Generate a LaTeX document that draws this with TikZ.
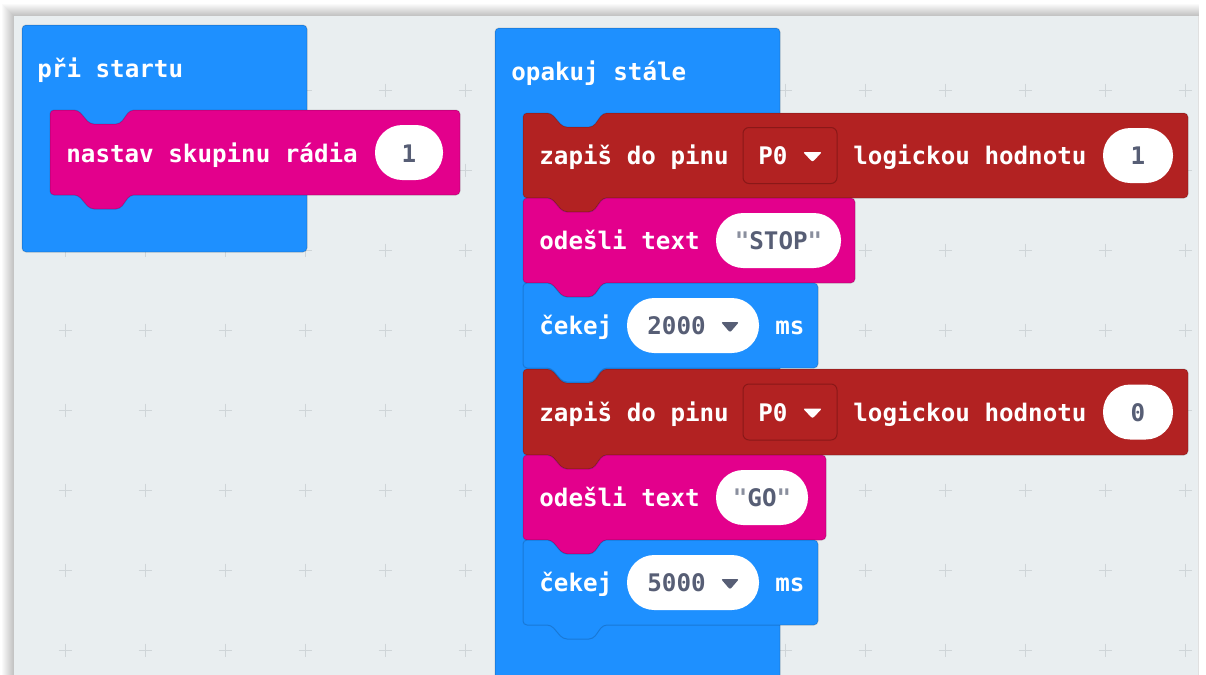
\documentclass[tikz,border=0pt]{standalone}
\usepackage{fontspec}
\newfontfamily\bfont{DejaVu Sans Mono}
\definecolor{bluec}{HTML}{1E90FF}
\definecolor{pinkc}{HTML}{E3008C}
\definecolor{redc}{HTML}{B22222}
\definecolor{ddred}{HTML}{8A1818}
\definecolor{bgc}{HTML}{E9EEF0}
\definecolor{gridc}{HTML}{CFD5D8}
\definecolor{valc}{HTML}{575E75}
\definecolor{quotec}{HTML}{8A8F9E}
\tikzset{
  blk/.style={draw=black, draw opacity=0.16, line width=0.5pt, rounded corners=2pt},
  wt/.style={font=\bfont\bfseries\fontsize{12.1}{14}\selectfont, text=white, anchor=base west, inner sep=0pt},
  vt/.style={font=\bfont\bfseries\fontsize{12.1}{14}\selectfont, text=valc, anchor=base, inner sep=0pt},
  vtw/.style={font=\bfont\bfseries\fontsize{12.1}{14}\selectfont, text=valc, anchor=base west, inner sep=0pt},
  oval/.style={fill=white, rounded corners=13.6pt},
  ddbox/.style={fill=redc, draw=ddred, line width=0.5pt, rounded corners=3pt},
  gridln/.style={draw=gridc, line width=0.5pt}
}
\newcommand\sblock[5]{%
  \filldraw[blk, fill=#5] (#1,#2) -- ({#1+28},#2) -- ({#1+40},{#2+14}) -- ({#1+70},{#2+14}) -- ({#1+80},#2) -- (#3,#2) -- (#3,#4) -- ({#1+80},#4) -- ({#1+70},{#4+14}) -- ({#1+40},{#4+14}) -- ({#1+28},#4) -- (#1,#4) -- cycle;}
\begin{document}
\begin{tikzpicture}[x=0.5pt,y=-0.5pt]
\useasboundingbox (0,0) rectangle (1206,675);
\clip (0,0) rectangle (1206,675);
\fill[white] (0,0) rectangle (1206,675);
% canvas shadow
\foreach \i in {1,...,12}{
  \fill[black, opacity=0.02] ({14-\i},{16-\i}) rectangle (1199,700);
}
\fill[bgc] (14,16) rectangle (1198,700);
\draw[draw=black!12, line width=0.5pt] (1198,16) -- (1198,700);
% grid pluses
\foreach \gx in {65,145,...,1185}{
  \foreach \gy in {90,170,...,650}{
    \draw[gridln] ({\gx-6.5},\gy) -- ({\gx+6.5},\gy) (\gx,{\gy-6.5}) -- (\gx,{\gy+6.5});
  }
}
% ---- block "pri startu"
\filldraw[blk, fill=bluec] (22,25) rectangle (307,252);
\sblock{50}{110}{460}{195}{pinkc}
\node[wt] (t1) at (37,77) {při startu};
\node[wt] (t2) at (66,162) {nastav skupinu rádia};
\fill[oval] (375,125) rectangle (443,180);
\node[vt] (v1) at (409,162) {1};
% ---- block "opakuj stale"
\filldraw[blk, fill=bluec] (495,28) rectangle (780,720);
\node[wt] (t3) at (511,80) {opakuj stále};
% red 1
\sblock{523}{113}{1188}{198}{redc}
\node[wt] (r1a) at (539,164.5) {zapiš do pinu};
\filldraw[ddbox] (743,127.5) rectangle (837,183.5);
\node[wt] (r1p) at (758,164.5) {P0};
\fill[white, rounded corners=1pt] (803,152) -- (822,152) -- (812.5,162) -- cycle;
\node[wt] (r1b) at (853,164.5) {logickou hodnotu};
\fill[oval] (1103,128) rectangle (1173,183);
\node[vt] (r1v) at (1138,164.5) {1};
% pink 1
\sblock{523}{198}{855}{283}{pinkc}
\node[wt] (p1a) at (539,249.5) {odešli text};
\fill[oval] (716,213) rectangle (841,268);
\node[vt] (p1v) at (778.5,249.5) {{\color{quotec}"}STOP{\color{quotec}"}};
% blue 1
\sblock{523}{283}{818}{368}{bluec}
\node[wt] (b1a) at (539,334.5) {čekej};
\fill[oval] (627,298) rectangle (759,353);
\node[vtw] (b1v) at (647,334.5) {2000};
\fill[valc, rounded corners=1pt] (721,322) -- (739,322) -- (730,332.5) -- cycle;
\node[wt] (b1m) at (775,334.5) {ms};
% red 2
\sblock{523}{369}{1188}{455}{redc}
\node[wt] (r2a) at (539,421) {zapiš do pinu};
\filldraw[ddbox] (743,384) rectangle (837,440);
\node[wt] (r2p) at (758,421) {P0};
\fill[white, rounded corners=1pt] (803,408.5) -- (822,408.5) -- (812.5,418.5) -- cycle;
\node[wt] (r2b) at (853,421) {logickou hodnotu};
\fill[oval] (1103,384.5) rectangle (1173,439.5);
\node[vt] (r2v) at (1138,421) {0};
% pink 2
\sblock{523}{455}{826}{540}{pinkc}
\node[wt] (p2a) at (539,506.5) {odešli text};
\fill[oval] (716,470) rectangle (808,525);
\node[vt] (p2v) at (762,506.5) {{\color{quotec}"}GO{\color{quotec}"}};
% blue 2
\sblock{523}{540}{818}{625}{bluec}
\node[wt] (b2a) at (539,591.5) {čekej};
\fill[oval] (627,555) rectangle (759,610);
\node[vtw] (b2v) at (647,591.5) {5000};
\fill[valc, rounded corners=1pt] (721,579) -- (739,579) -- (730,589.5) -- cycle;
\node[wt] (b2m) at (775,591.5) {ms};
\end{tikzpicture}
\end{document}
